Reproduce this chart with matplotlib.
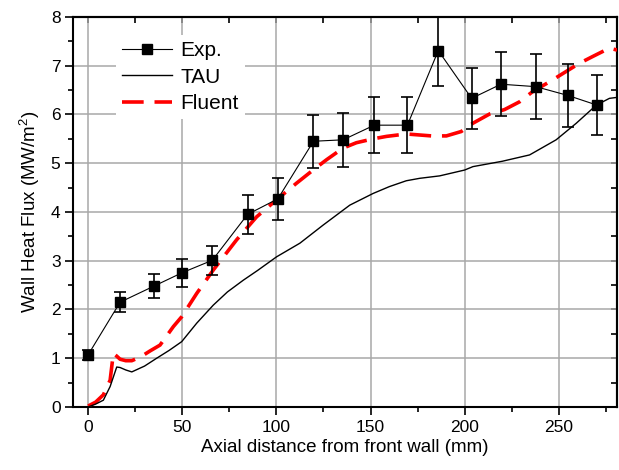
import numpy as np
import matplotlib
matplotlib.use('Agg')
import matplotlib.pyplot as plt
from matplotlib.ticker import MultipleLocator

plt.rcParams['font.family'] = ['Liberation Sans', 'DejaVu Sans']
plt.rcParams['mathtext.fontset'] = 'custom'
plt.rcParams['mathtext.rm'] = 'Liberation Sans'

# experiment (with error bars)
exp_x = [0, 17, 35, 49.7, 66, 84.7, 100.8, 119.7, 135.5, 152, 169.6, 186, 203.7, 219.3, 237.8, 254.8, 270.4]
exp_y = [1.07, 2.15, 2.48, 2.75, 3.01, 3.95, 4.27, 5.45, 5.48, 5.78, 5.78, 7.31, 6.33, 6.62, 6.57, 6.39, 6.19]
exp_err = [0.1, 0.21, 0.25, 0.28, 0.3, 0.4, 0.43, 0.54, 0.55, 0.58, 0.58, 0.73, 0.63, 0.66, 0.66, 0.64, 0.62]

# TAU simulation
tau_x = [0, 4, 8.1, 11.7, 15.2, 17, 20, 23.2, 30, 36.4, 43, 49.7, 57.7, 66.5, 74, 82.4, 90, 100.1,
         112.5, 124.8, 139, 151.4, 160, 169, 176.1, 186.7, 200, 204.4, 220, 234.5, 248.6, 259.3,
         269.9, 276.9, 281]
tau_y = [0.0, 0.06, 0.14, 0.42, 0.82, 0.81, 0.76, 0.72, 0.84, 1.0, 1.16, 1.34, 1.72, 2.09, 2.36, 2.6,
         2.8, 3.08, 3.36, 3.73, 4.14, 4.38, 4.52, 4.64, 4.69, 4.74, 4.86, 4.93, 5.04, 5.17, 5.48, 5.82,
         6.19, 6.33, 6.35]

# Fluent simulation
fl_x = [0, 4, 8.1, 11.7, 13.4, 15, 17, 20, 23.2, 28, 32.9, 38.2, 45.3, 49.7, 57.7, 66.5, 78.9, 89.5,
        100.1, 110.7, 119.5, 126.6, 135.4, 142.5, 151.4, 158.5, 169, 182.3, 190.3, 198.2, 204.4,
        213.3, 221.2, 229.2, 236.2, 245.1, 252.2, 261, 268.1, 276.9, 281]
fl_y = [0.02, 0.1, 0.25, 0.55, 1.1, 1.05, 0.98, 0.95, 0.95, 1.03, 1.15, 1.27, 1.65, 1.85, 2.33, 2.81,
        3.43, 3.9, 4.25, 4.59, 4.86, 5.07, 5.31, 5.42, 5.5, 5.55, 5.6, 5.56, 5.56, 5.65, 5.82, 6.01,
        6.1, 6.26, 6.47, 6.67, 6.84, 7.05, 7.19, 7.36, 7.32]

fig = plt.figure(figsize=(6.19, 4.70), dpi=100)
ax = fig.add_axes([0.118, 0.134, 0.879, 0.830])

ax.grid(True, color='#a8a8a8', linewidth=1.1)
ax.set_axisbelow(True)

ax.errorbar(exp_x, exp_y, yerr=exp_err, fmt='none', ecolor='black',
            elinewidth=1.2, capsize=4.5, capthick=1.2, zorder=5)
ax.plot(exp_x, exp_y, color='black', marker='s', markersize=7.5, linewidth=0.8,
        label='Exp.', zorder=6)
ax.plot(tau_x, tau_y, color='black', linewidth=1.0, label='TAU', zorder=4)
fl, = ax.plot(fl_x, fl_y, color='#ff0000', linewidth=2.6, label='Fluent', zorder=3)
fl.set_dashes((6, 3))

ax.set_xlim(-8, 281)
ax.set_ylim(0, 8)
ax.xaxis.set_major_locator(MultipleLocator(50))
ax.xaxis.set_minor_locator(MultipleLocator(25))
ax.yaxis.set_major_locator(MultipleLocator(1))
ax.yaxis.set_minor_locator(MultipleLocator(0.5))

for s in ax.spines.values():
    s.set_linewidth(1.5)

ax.tick_params(which='both', direction='out', top=False, right=False, labelsize=12.5, width=1.2)
ax.tick_params(which='major', length=5.5)
ax.tick_params(which='minor', length=3.5)
sec = ax.secondary_xaxis('top')
sec.xaxis.set_major_locator(MultipleLocator(50))
sec.xaxis.set_minor_locator(MultipleLocator(25))
sec.tick_params(which='both', direction='in', labeltop=False, length=4.5, width=1.2)
sec.spines['top'].set_linewidth(1.5)
secy = ax.secondary_yaxis('right')
secy.yaxis.set_major_locator(MultipleLocator(1))
secy.yaxis.set_minor_locator(MultipleLocator(0.5))
secy.tick_params(which='both', direction='in', labelright=False, length=4.5, width=1.2)
secy.spines['right'].set_linewidth(1.5)

ax.set_xlabel('Axial distance from front wall (mm)', fontsize=13.5, labelpad=3)
ax.set_ylabel('Wall Heat Flux (MW/m$^2$)', fontsize=13.5, labelpad=6)

leg = ax.legend(loc='upper left', bbox_to_anchor=(0.06, 0.98), fontsize=15, frameon=True,
                handlelength=2.4, handletextpad=0.4, labelspacing=0.35, borderpad=0.3)
leg.get_frame().set_edgecolor('none')
leg.get_frame().set_facecolor('white')
leg.get_frame().set_alpha(1)

fig.savefig('out.png', dpi=100)
